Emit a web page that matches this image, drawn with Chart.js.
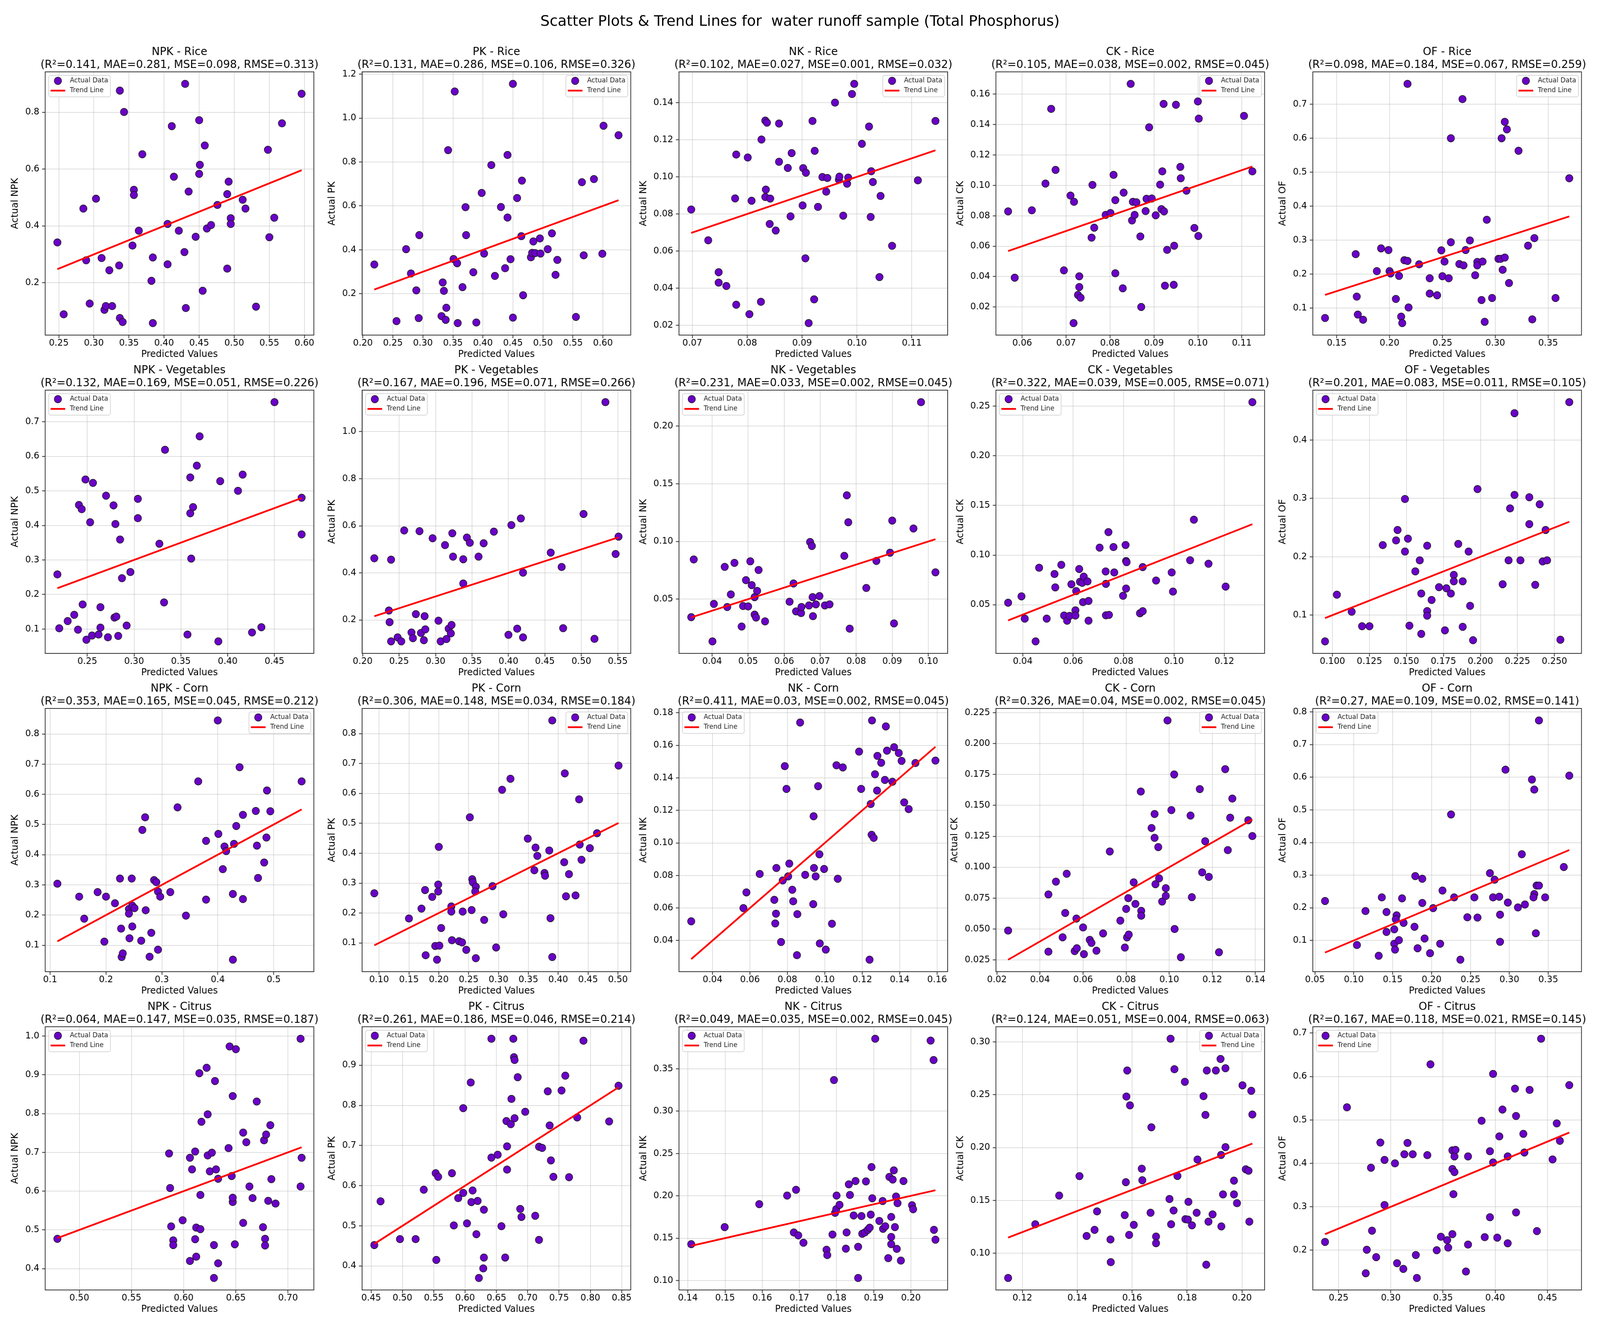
<!DOCTYPE html>
<html lang="en">
<head>
<meta charset="UTF-8">
<title>Scatter Plots &amp; Trend Lines for water runoff sample (Total Phosphorus)</title>
<script src="https://cdn.jsdelivr.net/npm/chart.js@4.4.1/dist/chart.umd.min.js"></script>
<style>
  html, body { margin: 0; padding: 0; background: #fff; width: 100%; height: 100%; overflow: hidden; }
  #page { position: relative; width: 4145px; height: 3385px; overflow: hidden; font-family: 'DejaVu Sans', sans-serif; transform-origin: 0 0; }
  #suptitle { position: absolute; left: 0; top: 30px; width: 4145px; text-align: center; font-size: 38px; line-height: 46px; color: #000; white-space: pre; }
  canvas { position: absolute; }
</style>
</head>
<body>
<div id="page">
  <div id="suptitle">Scatter Plots &amp; Trend Lines for  water runoff sample (Total Phosphorus)</div>
</div>

<script>
const nutrients = ['NPK', 'PK', 'NK', 'CK', 'OF'];
const crops = ['Rice', 'Vegetables', 'Corn', 'Citrus'];

// ---- Rice ----
const npkRicePred = [0.248,0.257,0.285,0.289,0.294,0.303,0.311,0.315,0.317,0.322,0.326,0.336,0.337,0.337,0.341,0.343,0.355,0.357,0.357,0.364,0.369,0.382,0.384,0.384,0.405,0.405,0.411,0.414,0.421,0.429,0.430,0.431,0.435,0.445,0.450,0.450,0.451,0.455,0.458,0.461,0.467,0.476,0.490,0.490,0.492,0.495,0.495,0.512,0.516,0.531,0.548,0.550,0.557,0.568,0.596];
const npkRiceActual = [0.342,0.089,0.461,0.279,0.127,0.496,0.287,0.105,0.118,0.244,0.118,0.261,0.876,0.076,0.062,0.801,0.331,0.527,0.509,0.383,0.652,0.207,0.289,0.058,0.265,0.407,0.751,0.573,0.383,0.308,0.900,0.111,0.521,0.362,0.772,0.583,0.615,0.172,0.683,0.391,0.403,0.474,0.250,0.512,0.556,0.427,0.407,0.492,0.461,0.116,0.668,0.360,0.429,0.761,0.865];
const pkRicePred = [0.219,0.256,0.272,0.280,0.289,0.293,0.294,0.331,0.333,0.335,0.338,0.339,0.342,0.351,0.353,0.357,0.358,0.366,0.371,0.372,0.384,0.389,0.398,0.402,0.414,0.420,0.430,0.437,0.441,0.441,0.446,0.450,0.450,0.457,0.464,0.465,0.467,0.480,0.482,0.484,0.487,0.495,0.496,0.508,0.515,0.521,0.524,0.555,0.565,0.568,0.585,0.599,0.601,0.626];
const pkRiceActual = [0.333,0.075,0.403,0.292,0.215,0.089,0.467,0.098,0.251,0.213,0.081,0.136,0.854,0.358,1.121,0.339,0.066,0.230,0.594,0.467,0.298,0.069,0.659,0.383,0.786,0.281,0.595,0.316,0.547,0.832,0.357,1.156,0.091,0.636,0.462,0.715,0.193,0.366,0.386,0.438,0.385,0.452,0.383,0.403,0.475,0.286,0.354,0.094,0.708,0.375,0.722,0.382,0.965,0.922];
const nkRicePred = [0.0698,0.0729,0.0748,0.0748,0.0762,0.0778,0.0780,0.0780,0.0801,0.0804,0.0808,0.0826,0.0825,0.0833,0.0836,0.0834,0.0833,0.0842,0.0841,0.0852,0.0858,0.0858,0.0874,0.0879,0.0881,0.0901,0.0902,0.0906,0.0907,0.0912,0.0919,0.0922,0.0923,0.0929,0.0937,0.0944,0.0946,0.0960,0.0967,0.0968,0.0975,0.0982,0.0984,0.0991,0.0995,0.1009,0.1022,0.1025,0.1026,0.1029,0.1041,0.1043,0.1064,0.1111,0.1143];
const nkRiceActual = [0.0824,0.0658,0.0486,0.0430,0.0412,0.0884,0.1120,0.0311,0.1104,0.0260,0.0871,0.1201,0.0327,0.1303,0.1292,0.0931,0.0891,0.0883,0.0746,0.0711,0.1287,0.1081,0.1048,0.0787,0.1128,0.0846,0.1047,0.0561,0.1022,0.0212,0.1301,0.0340,0.1140,0.0838,0.0999,0.0920,0.0994,0.1400,0.0985,0.1001,0.0791,0.0963,0.0996,0.1446,0.1501,0.1178,0.1271,0.0784,0.1030,0.0972,0.0460,0.0897,0.0628,0.0981,0.1301];
const ckRicePred = [0.0568,0.0583,0.0622,0.0653,0.0666,0.0676,0.0695,0.0710,0.0717,0.0718,0.0727,0.0730,0.0730,0.0733,0.0758,0.0760,0.0764,0.0790,0.0801,0.0808,0.0812,0.0812,0.0829,0.0831,0.0847,0.0850,0.0852,0.0856,0.0860,0.0869,0.0871,0.0881,0.0883,0.0889,0.0895,0.0904,0.0914,0.0917,0.0919,0.0922,0.0923,0.0925,0.0930,0.0945,0.0946,0.0950,0.0960,0.0961,0.0974,0.0992,0.1000,0.1002,0.1001,0.1105,0.1124];
const ckRiceActual = [0.0829,0.0393,0.0836,0.1012,0.1503,0.1102,0.0441,0.0933,0.0094,0.0892,0.0279,0.0402,0.0331,0.0261,0.0656,0.1003,0.0722,0.0806,0.0818,0.1069,0.0422,0.0903,0.0323,0.0952,0.1668,0.0769,0.0892,0.0806,0.0889,0.0664,0.0200,0.0831,0.0912,0.1382,0.0914,0.0803,0.1005,0.0844,0.1092,0.1536,0.0829,0.0340,0.0576,0.0346,0.0603,0.1530,0.1122,0.1047,0.0965,0.0720,0.1552,0.1439,0.0667,0.1457,0.1092];
const ofRicePred = [0.139,0.168,0.169,0.170,0.175,0.188,0.192,0.199,0.200,0.201,0.206,0.209,0.211,0.212,0.214,0.217,0.217,0.218,0.228,0.238,0.238,0.245,0.249,0.250,0.252,0.256,0.258,0.258,0.266,0.269,0.270,0.272,0.276,0.281,0.283,0.283,0.287,0.288,0.290,0.292,0.297,0.303,0.305,0.306,0.309,0.309,0.307,0.311,0.313,0.322,0.331,0.335,0.337,0.357,0.370];
const ofRiceActual = [0.071,0.259,0.134,0.081,0.066,0.209,0.276,0.271,0.209,0.202,0.127,0.195,0.075,0.056,0.241,0.760,0.239,0.102,0.229,0.188,0.143,0.138,0.270,0.194,0.237,0.188,0.294,0.600,0.230,0.715,0.226,0.271,0.299,0.197,0.236,0.226,0.124,0.237,0.060,0.360,0.130,0.245,0.245,0.600,0.249,0.648,0.213,0.626,0.174,0.563,0.284,0.067,0.306,0.130,0.482];

// ---- Vegetables ----
const npkVegPred = [0.218,0.220,0.229,0.236,0.240,0.241,0.244,0.245,0.248,0.249,0.253,0.255,0.256,0.262,0.264,0.264,0.270,0.272,0.278,0.280,0.279,0.281,0.283,0.285,0.287,0.292,0.296,0.304,0.304,0.327,0.332,0.333,0.357,0.360,0.360,0.361,0.363,0.367,0.370,0.390,0.392,0.411,0.416,0.426,0.436,0.450,0.479,0.479];
const npkVegActual = [0.258,0.102,0.123,0.141,0.098,0.459,0.447,0.171,0.533,0.069,0.409,0.081,0.523,0.084,0.163,0.104,0.486,0.076,0.458,0.404,0.133,0.136,0.080,0.359,0.247,0.110,0.265,0.477,0.421,0.347,0.177,0.619,0.084,0.539,0.435,0.304,0.453,0.573,0.658,0.064,0.528,0.500,0.547,0.090,0.105,0.757,0.374,0.480];
const pkVegPred = [0.216,0.236,0.237,0.239,0.239,0.248,0.253,0.257,0.267,0.269,0.273,0.278,0.280,0.284,0.285,0.286,0.296,0.304,0.307,0.313,0.315,0.318,0.321,0.322,0.323,0.324,0.338,0.338,0.343,0.347,0.359,0.366,0.380,0.400,0.404,0.412,0.417,0.420,0.420,0.458,0.473,0.475,0.503,0.518,0.533,0.547,0.551];
const pkVegActual = [0.462,0.240,0.191,0.456,0.109,0.126,0.109,0.580,0.147,0.123,0.225,0.577,0.145,0.114,0.216,0.160,0.547,0.197,0.109,0.518,0.119,0.163,0.143,0.179,0.568,0.469,0.355,0.458,0.550,0.528,0.469,0.526,0.575,0.137,0.603,0.163,0.631,0.126,0.401,0.486,0.425,0.165,0.650,0.120,1.125,0.480,0.554];
const nkVegPred = [0.0342,0.0349,0.0401,0.0405,0.0435,0.0442,0.0452,0.0462,0.0482,0.0486,0.0494,0.0500,0.0506,0.0510,0.0518,0.0518,0.0522,0.0525,0.0529,0.0547,0.0615,0.0626,0.0633,0.0647,0.0648,0.0669,0.0672,0.0677,0.0679,0.0680,0.0688,0.0698,0.0713,0.0726,0.0767,0.0774,0.0778,0.0782,0.0828,0.0856,0.0894,0.0900,0.0905,0.0959,0.0980,0.1020];
const nkVegActual = [0.0344,0.0844,0.0134,0.0459,0.0780,0.0432,0.0541,0.0815,0.0263,0.0441,0.0665,0.0437,0.0828,0.0622,0.0366,0.0518,0.0341,0.0572,0.0753,0.0308,0.0478,0.0636,0.0394,0.0380,0.0432,0.0446,0.0996,0.0961,0.0518,0.0353,0.0455,0.0527,0.0446,0.0455,0.0876,0.1400,0.1167,0.0244,0.0597,0.0832,0.0903,0.1181,0.0290,0.1113,0.2208,0.0733];
const ckVegPred = [0.0342,0.0395,0.0408,0.0451,0.0465,0.0495,0.0526,0.0529,0.0553,0.0564,0.0576,0.0586,0.0593,0.0609,0.0609,0.0612,0.0624,0.0627,0.0636,0.0642,0.0639,0.0657,0.0661,0.0661,0.0705,0.0729,0.0730,0.0730,0.0740,0.0742,0.0760,0.0763,0.0798,0.0808,0.0810,0.0810,0.0812,0.0865,0.0876,0.0876,0.0929,0.0991,0.0996,0.1064,0.1079,0.1137,0.1205,0.1311];
const ckVegActual = [0.0521,0.0585,0.0360,0.0131,0.0873,0.0360,0.0810,0.0675,0.0902,0.0392,0.0340,0.0388,0.0706,0.0444,0.0392,0.0638,0.0860,0.0731,0.0721,0.0783,0.0527,0.0735,0.0538,0.0340,0.1075,0.0835,0.0710,0.0394,0.1231,0.0398,0.1081,0.0825,0.0590,0.1102,0.0663,0.0940,0.0929,0.0415,0.0435,0.0879,0.0744,0.0825,0.0633,0.0948,0.1356,0.0913,0.0683,0.2540];
const ofVegPred = [0.095,0.103,0.113,0.120,0.125,0.134,0.143,0.144,0.149,0.149,0.151,0.152,0.156,0.159,0.160,0.160,0.164,0.164,0.164,0.167,0.172,0.176,0.177,0.180,0.182,0.182,0.185,0.188,0.188,0.192,0.193,0.195,0.198,0.215,0.219,0.220,0.223,0.223,0.227,0.233,0.233,0.237,0.240,0.242,0.244,0.245,0.254,0.260];
const ofVegActual = [0.055,0.135,0.106,0.081,0.081,0.220,0.228,0.246,0.209,0.299,0.231,0.082,0.175,0.194,0.068,0.137,0.219,0.107,0.099,0.126,0.148,0.074,0.146,0.137,0.169,0.158,0.222,0.158,0.080,0.209,0.116,0.057,0.316,0.153,0.194,0.283,0.446,0.306,0.194,0.256,0.302,0.152,0.290,0.192,0.246,0.194,0.058,0.465];

// ---- Corn ----
const npkCornPred = [0.113,0.152,0.161,0.185,0.197,0.200,0.216,0.225,0.227,0.228,0.230,0.241,0.241,0.242,0.246,0.247,0.247,0.251,0.263,0.265,0.270,0.271,0.278,0.281,0.286,0.290,0.293,0.293,0.297,0.315,0.328,0.343,0.365,0.379,0.379,0.400,0.401,0.409,0.412,0.415,0.427,0.427,0.429,0.433,0.439,0.445,0.445,0.468,0.470,0.472,0.483,0.487,0.488,0.494,0.550];
const npkCornActual = [0.304,0.261,0.188,0.276,0.112,0.261,0.239,0.321,0.155,0.061,0.073,0.220,0.205,0.123,0.321,0.162,0.231,0.223,0.115,0.482,0.524,0.216,0.062,0.141,0.316,0.309,0.278,0.085,0.261,0.276,0.557,0.198,0.643,0.446,0.251,0.845,0.469,0.352,0.427,0.412,0.270,0.052,0.436,0.495,0.690,0.253,0.532,0.545,0.430,0.323,0.374,0.457,0.613,0.544,0.643];
const pkCornPred = [0.092,0.150,0.171,0.177,0.178,0.189,0.194,0.197,0.199,0.199,0.200,0.201,0.204,0.221,0.221,0.222,0.234,0.239,0.240,0.246,0.252,0.255,0.256,0.257,0.262,0.261,0.262,0.276,0.290,0.296,0.306,0.308,0.320,0.349,0.360,0.362,0.365,0.377,0.378,0.385,0.387,0.390,0.390,0.410,0.411,0.413,0.418,0.429,0.435,0.436,0.439,0.453,0.465,0.501];
const pkCornActual = [0.266,0.182,0.215,0.277,0.059,0.254,0.090,0.044,0.295,0.272,0.421,0.091,0.150,0.222,0.205,0.109,0.106,0.102,0.205,0.077,0.520,0.210,0.313,0.303,0.288,0.272,0.049,0.177,0.290,0.085,0.612,0.196,0.649,0.449,0.343,0.419,0.391,0.334,0.325,0.409,0.183,0.844,0.053,0.370,0.667,0.256,0.330,0.259,0.580,0.429,0.378,0.417,0.467,0.693];
const nkCornPred = [0.0286,0.0565,0.0581,0.0652,0.0730,0.0735,0.0739,0.0741,0.0766,0.0775,0.0786,0.0795,0.0804,0.0810,0.0826,0.0831,0.0851,0.0853,0.0868,0.0895,0.0938,0.0940,0.0942,0.0951,0.0964,0.0971,0.0973,0.0996,0.1005,0.1038,0.1062,0.1069,0.1096,0.1183,0.1194,0.1239,0.1245,0.1250,0.1252,0.1261,0.1268,0.1279,0.1281,0.1301,0.1321,0.1326,0.1332,0.1361,0.1370,0.1395,0.1410,0.1424,0.1448,0.1484,0.1591];
const nkCornActual = [0.0518,0.0599,0.0696,0.0809,0.0650,0.0505,0.0565,0.0846,0.0391,0.0769,0.1472,0.1332,0.0794,0.0873,0.0712,0.0641,0.0310,0.0562,0.1740,0.0804,0.0624,0.1164,0.0846,0.0794,0.1349,0.0930,0.0382,0.0840,0.0344,0.0503,0.1477,0.0780,0.1464,0.1561,0.1332,0.0282,0.1239,0.1050,0.1753,0.1031,0.1422,0.1322,0.1535,0.1493,0.1387,0.1716,0.1567,0.1376,0.1588,0.1553,0.1504,0.1249,0.1208,0.1491,0.1506];
const ckCornPred = [0.0252,0.0439,0.0439,0.0474,0.0505,0.0517,0.0524,0.0561,0.0569,0.0571,0.0600,0.0604,0.0631,0.0639,0.0662,0.0693,0.0724,0.0773,0.0794,0.0800,0.0804,0.0810,0.0812,0.0835,0.0843,0.0868,0.0870,0.0870,0.0918,0.0932,0.0932,0.0936,0.0949,0.0953,0.0967,0.0984,0.0984,0.0992,0.1010,0.1023,0.1025,0.1054,0.1099,0.1105,0.1142,0.1153,0.1167,0.1184,0.1231,0.1260,0.1272,0.1283,0.1293,0.1367,0.1386];
const ckCornActual = [0.0488,0.0780,0.0317,0.0883,0.0433,0.0630,0.0947,0.0322,0.0585,0.0345,0.0513,0.0297,0.0413,0.0388,0.0325,0.0465,0.1127,0.0568,0.0350,0.0663,0.0432,0.0750,0.0455,0.0878,0.0703,0.1612,0.0647,0.0608,0.1317,0.1430,0.1238,0.0863,0.1163,0.0910,0.0722,0.0830,0.0768,0.2187,0.1462,0.1750,0.0500,0.0272,0.1418,0.0758,0.1632,0.0958,0.1210,0.0922,0.0312,0.1793,0.1138,0.1400,0.1555,0.1380,0.1252];
const ofCornPred = [0.063,0.104,0.115,0.132,0.136,0.142,0.142,0.152,0.152,0.153,0.155,0.154,0.158,0.164,0.162,0.178,0.179,0.182,0.188,0.188,0.191,0.198,0.202,0.211,0.214,0.225,0.229,0.237,0.246,0.255,0.259,0.275,0.279,0.281,0.287,0.288,0.288,0.295,0.298,0.311,0.320,0.316,0.329,0.332,0.331,0.332,0.334,0.335,0.338,0.338,0.346,0.370,0.377];
const ofCornActual = [0.221,0.086,0.190,0.053,0.232,0.187,0.126,0.090,0.134,0.072,0.177,0.165,0.101,0.154,0.229,0.142,0.297,0.076,0.289,0.215,0.106,0.061,0.199,0.090,0.253,0.486,0.232,0.041,0.171,0.232,0.170,0.306,0.232,0.286,0.234,0.179,0.096,0.623,0.216,0.201,0.210,0.364,0.593,0.242,0.232,0.562,0.122,0.268,0.268,0.774,0.232,0.325,0.605];

// ---- Citrus ----
const npkCitrusPred = [0.479,0.586,0.587,0.588,0.590,0.590,0.599,0.606,0.606,0.608,0.611,0.611,0.612,0.612,0.615,0.616,0.616,0.617,0.622,0.623,0.623,0.625,0.627,0.629,0.629,0.630,0.631,0.633,0.633,0.643,0.644,0.646,0.647,0.647,0.647,0.649,0.650,0.657,0.657,0.660,0.663,0.666,0.670,0.676,0.677,0.678,0.678,0.679,0.681,0.683,0.684,0.688,0.712,0.712,0.713];
const npkCitrusActual = [0.477,0.697,0.608,0.509,0.473,0.461,0.525,0.686,0.420,0.656,0.702,0.476,0.431,0.506,0.904,0.590,0.502,0.779,0.918,0.798,0.692,0.651,0.699,0.461,0.376,0.884,0.656,0.632,0.414,0.711,0.973,0.639,0.845,0.572,0.583,0.463,0.966,0.751,0.518,0.726,0.612,0.582,0.831,0.507,0.731,0.477,0.460,0.746,0.575,0.770,0.631,0.568,0.612,0.993,0.686];
const pkCitrusPred = [0.455,0.465,0.496,0.521,0.534,0.553,0.554,0.557,0.579,0.582,0.589,0.597,0.597,0.603,0.609,0.610,0.612,0.618,0.620,0.622,0.629,0.630,0.630,0.642,0.642,0.652,0.658,0.664,0.666,0.667,0.667,0.673,0.674,0.677,0.678,0.679,0.679,0.684,0.688,0.690,0.696,0.712,0.718,0.718,0.723,0.732,0.735,0.737,0.741,0.754,0.760,0.766,0.779,0.789,0.830,0.845];
const pkCitrusActual = [0.452,0.561,0.467,0.467,0.590,0.631,0.415,0.622,0.631,0.501,0.569,0.582,0.793,0.506,0.857,0.559,0.588,0.479,0.562,0.370,0.394,0.540,0.421,0.966,0.670,0.677,0.499,0.421,0.761,0.698,0.640,0.753,0.816,0.966,0.920,0.913,0.768,0.870,0.542,0.522,0.784,0.525,0.697,0.465,0.694,0.835,0.750,0.663,0.622,0.837,0.874,0.621,0.770,0.961,0.760,0.849];
const nkCitrusPred = [0.1409,0.1499,0.1592,0.1667,0.1685,0.1691,0.1697,0.1711,0.1773,0.1775,0.1789,0.1793,0.1796,0.1799,0.1800,0.1808,0.1825,0.1827,0.1833,0.1836,0.1846,0.1851,0.1858,0.1858,0.1867,0.1869,0.1876,0.1879,0.1884,0.1889,0.1892,0.1894,0.1896,0.1904,0.1915,0.1924,0.1925,0.1931,0.1939,0.1942,0.1947,0.1947,0.1947,0.1951,0.1954,0.1957,0.1960,0.1962,0.1964,0.1973,0.1980,0.2003,0.2006,0.2053,0.2061,0.2062,0.2066];
const nkCitrusActual = [0.1429,0.1630,0.1901,0.2003,0.1567,0.2071,0.1533,0.1446,0.1363,0.1300,0.1543,0.3367,0.1799,0.1841,0.2003,0.1894,0.1375,0.1567,0.2136,0.2010,0.1768,0.2175,0.1397,0.1029,0.1761,0.1552,0.1567,0.2170,0.1598,0.1623,0.1778,0.2340,0.1971,0.3856,0.1703,0.1938,0.1610,0.1640,0.1264,0.2223,0.1751,0.1514,0.1429,0.2192,0.2301,0.1630,0.1991,0.1373,0.1913,0.1235,0.2175,0.1889,0.1841,0.3834,0.3604,0.1598,0.1482];
const ckCitrusPred = [0.1148,0.1247,0.1334,0.1408,0.1434,0.1463,0.1472,0.1521,0.1522,0.1573,0.1577,0.1579,0.1582,0.1589,0.1592,0.1606,0.1635,0.1637,0.1667,0.1670,0.1687,0.1687,0.1736,0.1742,0.1740,0.1751,0.1754,0.1765,0.1792,0.1794,0.1803,0.1805,0.1818,0.1835,0.1838,0.1860,0.1867,0.1870,0.1872,0.1878,0.1893,0.1905,0.1922,0.1924,0.1925,0.1931,0.1940,0.1940,0.1971,0.1971,0.1982,0.2002,0.2014,0.2024,0.2027,0.2034,0.2038];
const ckCitrusActual = [0.0765,0.1274,0.1546,0.1730,0.1163,0.1221,0.1396,0.1130,0.0915,0.1361,0.1672,0.2483,0.2730,0.1173,0.2400,0.1268,0.1800,0.1691,0.1383,0.2192,0.1157,0.1095,0.1513,0.1274,0.3031,0.1404,0.2742,0.1732,0.2623,0.1322,0.1318,0.1487,0.1264,0.1383,0.1887,0.2487,0.2309,0.0891,0.2730,0.1299,0.1367,0.2730,0.2839,0.1930,0.1254,0.1557,0.2004,0.2751,0.1557,0.1687,0.1474,0.2590,0.1794,0.1781,0.1299,0.2538,0.2313];
const ofCitrusPred = [0.237,0.258,0.276,0.277,0.281,0.282,0.286,0.290,0.294,0.294,0.304,0.306,0.312,0.313,0.316,0.321,0.324,0.325,0.335,0.338,0.344,0.348,0.354,0.355,0.359,0.359,0.359,0.360,0.361,0.361,0.362,0.372,0.374,0.374,0.387,0.390,0.395,0.395,0.398,0.398,0.402,0.404,0.407,0.412,0.412,0.419,0.420,0.420,0.427,0.428,0.433,0.440,0.444,0.455,0.459,0.462,0.471];
const ofCitrusActual = [0.219,0.529,0.147,0.201,0.390,0.245,0.184,0.448,0.408,0.304,0.400,0.170,0.157,0.421,0.447,0.421,0.189,0.136,0.419,0.628,0.200,0.231,0.223,0.206,0.387,0.237,0.430,0.329,0.416,0.380,0.431,0.151,0.416,0.213,0.498,0.230,0.428,0.276,0.402,0.606,0.229,0.462,0.524,0.216,0.416,0.572,0.287,0.509,0.468,0.425,0.569,0.244,0.687,0.409,0.492,0.452,0.580];

// panel order: row = crop, column = nutrient
const predicted = [
  npkRicePred, pkRicePred, nkRicePred, ckRicePred, ofRicePred,
  npkVegPred, pkVegPred, nkVegPred, ckVegPred, ofVegPred,
  npkCornPred, pkCornPred, nkCornPred, ckCornPred, ofCornPred,
  npkCitrusPred, pkCitrusPred, nkCitrusPred, ckCitrusPred, ofCitrusPred
];
const actual = [
  npkRiceActual, pkRiceActual, nkRiceActual, ckRiceActual, ofRiceActual,
  npkVegActual, pkVegActual, nkVegActual, ckVegActual, ofVegActual,
  npkCornActual, pkCornActual, nkCornActual, ckCornActual, ofCornActual,
  npkCitrusActual, pkCitrusActual, nkCitrusActual, ckCitrusActual, ofCitrusActual
];

const r2   = [0.141,0.131,0.102,0.105,0.098, 0.132,0.167,0.231,0.322,0.201, 0.353,0.306,0.411,0.326,0.27, 0.064,0.261,0.049,0.124,0.167];
const mae  = [0.281,0.286,0.027,0.038,0.184, 0.169,0.196,0.033,0.039,0.083, 0.165,0.148,0.03,0.04,0.109, 0.147,0.186,0.035,0.051,0.118];
const mse  = [0.098,0.106,0.001,0.002,0.067, 0.051,0.071,0.002,0.005,0.011, 0.045,0.034,0.002,0.002,0.02, 0.035,0.046,0.002,0.004,0.021];
const rmse = [0.313,0.326,0.032,0.045,0.259, 0.226,0.266,0.045,0.071,0.105, 0.212,0.184,0.045,0.045,0.141, 0.187,0.214,0.045,0.063,0.145];

// tick spacing of each panel's axes
const xSteps = [0.05,0.05,0.01,0.01,0.05, 0.05,0.05,0.01,0.02,0.025, 0.1,0.05,0.02,0.02,0.05, 0.05,0.05,0.01,0.02,0.05];
const ySteps = [0.2,0.2,0.02,0.02,0.1, 0.1,0.2,0.05,0.05,0.1, 0.1,0.1,0.02,0.025,0.1, 0.1,0.1,0.05,0.05,0.1];
// legend corner chosen by matplotlib ("best")
const legendCorner = ['ul','ur','ur','ur','ur', 'ul','ul','ul','ul','ul', 'ur','ur','ul','ur','ul', 'ul','ul','ul','ur','ul'];

const FONT = "'DejaVu Sans', sans-serif";
const DOT = '#6a00c8';

// grid of axes boxes (page px)
const PAGE_W = 4145, PAGE_H = 3385;
const AX_LEFT = 117, COL_GAP = 821, AX_W = 696;
const AX_TOP = 184, ROW_GAP = 815, AX_H = 674;
const PAD_L = 150, PAD_T = 130, CANVAS_W = 890, CANVAS_H = 890;

function decimals(step) {
  const s = String(step);
  return s.includes('.') ? s.split('.')[1].length : 0;
}

function tickValues(min, max, step) {
  const out = [];
  let v = Math.ceil(min / step - 1e-9) * step;
  while (v <= max + 1e-9) {
    out.push(Math.round(v * 1e6) / 1e6);
    v += step;
  }
  return out;
}

function axis(min, max, step, title, horizontal) {
  const dec = decimals(step);
  return {
    type: 'linear',
    min, max,
    afterBuildTicks: s => { s.ticks = tickValues(min, max, step).map(v => ({ value: v })); },
    afterFit: s => {
      if (horizontal) { s.paddingLeft = 0; s.paddingRight = 0; }
      else { s.paddingTop = 0; s.paddingBottom = 0; }
    },
    ticks: {
      font: { family: FONT, size: 23, lineHeight: 1 },
      color: '#000',
      padding: horizontal ? 2 : 7,
      maxRotation: 0, minRotation: 0, autoSkip: false,
      callback: v => Number(v).toFixed(dec)
    },
    grid: { color: 'rgba(176,176,176,0.55)', lineWidth: 1.5, tickLength: 8, tickColor: '#333', tickWidth: 2 },
    border: { color: '#333', width: 2 },
    title: { display: true, text: title, color: '#000', font: { family: FONT, size: 24, lineHeight: 1.2 }, padding: { top: 0, bottom: 4 } }
  };
}

// titles, frame and legend, drawn the way matplotlib lays them out
const panelDecor = {
  id: 'panelDecor',
  afterDraw(chart, args, opts) {
    const { ctx, chartArea: a } = chart;
    ctx.save();
    ctx.strokeStyle = '#333';
    ctx.lineWidth = 2;
    ctx.strokeRect(a.left, a.top, a.right - a.left, a.bottom - a.top);

    ctx.fillStyle = '#000';
    ctx.textAlign = 'center';
    ctx.textBaseline = 'middle';
    ctx.font = '28px ' + FONT;
    const cx = (a.left + a.right) / 2;
    ctx.fillText(opts.lines[0], cx, a.top - 50);
    ctx.fillText(opts.lines[1], cx, a.top - 17);

    const bw = 160, bh = 55;
    const bx = opts.corner === 'ur' ? a.right - 8 - bw : a.left + 9;
    const by = a.top + 9;
    ctx.beginPath();
    ctx.roundRect(bx, by, bw, bh, 5);
    ctx.fillStyle = 'rgba(255,255,255,0.8)';
    ctx.fill();
    ctx.strokeStyle = '#cccccc';
    ctx.lineWidth = 1.5;
    ctx.stroke();

    ctx.beginPath();
    ctx.arc(bx + 24, by + 14, 9.5, 0, Math.PI * 2);
    ctx.fillStyle = DOT;
    ctx.fill();
    ctx.strokeStyle = '#1a1a1a';
    ctx.lineWidth = 1.5;
    ctx.stroke();

    ctx.beginPath();
    ctx.moveTo(bx + 5, by + 39);
    ctx.lineTo(bx + 43, by + 39);
    ctx.strokeStyle = '#ff0000';
    ctx.lineWidth = 4.5;
    ctx.stroke();

    ctx.fillStyle = '#222';
    ctx.textAlign = 'left';
    ctx.font = '17px ' + FONT;
    ctx.fillText('Actual Data', bx + 55, by + 14);
    ctx.fillText('Trend Line', bx + 55, by + 39);
    ctx.restore();
  }
};

const page = document.getElementById('page');

// if the visible viewport is not the full 4145x3385, shrink the sheet to fit it
const vw = window.innerWidth || PAGE_W, vh = window.innerHeight || PAGE_H;
const sx = vw / PAGE_W, sy = vh / PAGE_H;
if (Math.abs(sx - 1) > 0.001 || Math.abs(sy - 1) > 0.001) {
  page.style.transform = 'scale(' + sx + ',' + sy + ')';
}

crops.forEach((crop, r) => {
  nutrients.forEach((nut, c) => {
    const i = r * 5 + c;
    const xs = predicted[i], ys = actual[i];
    const n = Math.min(xs.length, ys.length);
    const pts = [];
    for (let k = 0; k < n; k++) pts.push({ x: xs[k], y: ys[k] });

    // trend line: the perfect-prediction line y = x over the predicted range
    const lo = Math.min(...xs), hi = Math.max(...xs);
    const yLo = Math.min(lo, ...ys), yHi = Math.max(hi, ...ys);
    const xm = (hi - lo) * 0.05, ym = (yHi - yLo) * 0.05;

    const axLeft = AX_LEFT + c * COL_GAP, axTop = AX_TOP + r * ROW_GAP;
    const cLeft = axLeft - PAD_L, cTop = axTop - PAD_T;
    const canvas = document.createElement('canvas');
    canvas.width = Math.min(CANVAS_W, PAGE_W - cLeft);
    canvas.height = Math.min(CANVAS_H, PAGE_H - cTop);
    canvas.style.left = cLeft + 'px';
    canvas.style.top = cTop + 'px';
    page.appendChild(canvas);

    const pad = { left: 40, top: PAD_T, right: 40, bottom: 10 };
    const chart = new Chart(canvas, {
      type: 'scatter',
      data: {
        datasets: [
          { type: 'line', label: 'Trend Line', data: [{ x: lo, y: lo }, { x: hi, y: hi }],
            borderColor: '#ff0000', borderWidth: 4.5, pointRadius: 0, fill: false, order: 0 },
          { label: 'Actual Data', data: pts, backgroundColor: DOT, borderColor: '#1a1a1a',
            borderWidth: 1.5, pointRadius: 9.5, order: 1 }
        ]
      },
      options: {
        responsive: false,
        animation: false,
        devicePixelRatio: 1,
        events: [],
        layout: { padding: pad },
        plugins: {
          legend: { display: false },
          tooltip: { enabled: false },
          panelDecor: {
            lines: [nut + ' - ' + crop, '(R\u00b2=' + r2[i] + ', MAE=' + mae[i] + ', MSE=' + mse[i] + ', RMSE=' + rmse[i] + ')'],
            corner: legendCorner[i]
          }
        },
        scales: {
          x: axis(lo - xm, hi + xm, xSteps[i], 'Predicted Values', true),
          y: axis(yLo - ym, yHi + ym, ySteps[i], 'Actual ' + nut, false)
        }
      },
      plugins: [panelDecor]
    });

    // nudge the padding so the plot box lands exactly on its grid cell
    for (let k = 0; k < 3; k++) {
      const a = chart.chartArea;
      const dl = PAD_L - a.left, dt = PAD_T - a.top;
      const dr = a.right - (PAD_L + AX_W), db = a.bottom - (PAD_T + AX_H);
      if (Math.abs(dl) + Math.abs(dt) + Math.abs(dr) + Math.abs(db) < 0.5) break;
      pad.left += dl; pad.top += dt; pad.right += dr; pad.bottom += db;
      chart.options.layout.padding = { ...pad };
      chart.update('none');
    }
  });
});
</script>
</body>
</html>
